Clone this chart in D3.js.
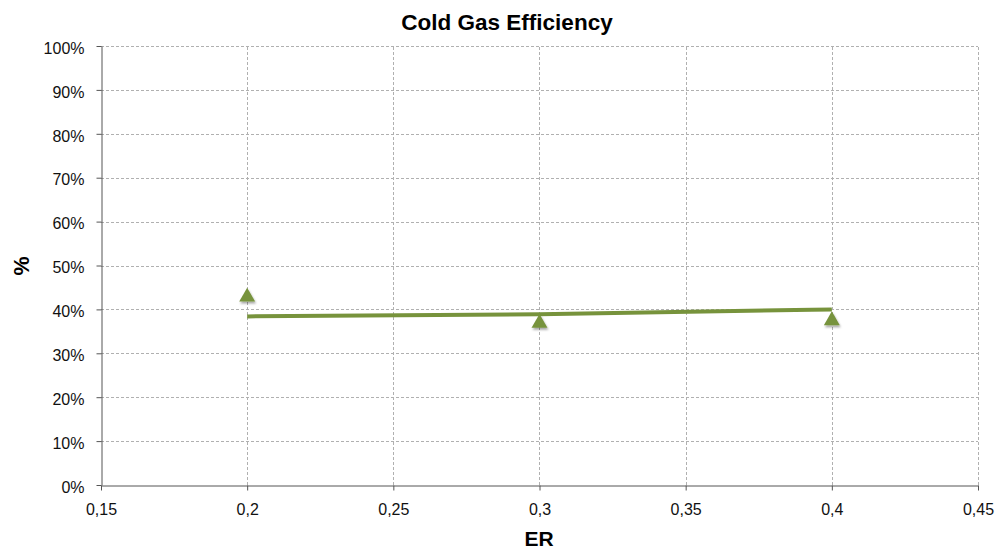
<!DOCTYPE html>
<html>
<head>
<meta charset="utf-8">
<script src="https://cdn.jsdelivr.net/npm/d3@7"></script>
<style>
  body { margin: 0; background: #fff; }
  svg { display: block; font-family: "Liberation Sans", Arial, sans-serif; }
</style>
</head>
<body>
<svg id="chart" width="1001" height="554"></svg>
<script>
// Measured efficiency per equivalence ratio
const erValues = [0.2, 0.3, 0.4];
const efficiency = [43.2, 37.2, 37.8];
// Fitted trend through the same ER values
const trendValues = [38.4, 38.9, 40.0];
const xTicks = [0.15, 0.2, 0.25, 0.3, 0.35, 0.4, 0.45];
const yTicks = [0, 10, 20, 30, 40, 50, 60, 70, 80, 90, 100];

const svg = d3.select("#chart");
const margin = { left: 101, right: 1001 - 978, top: 46, bottom: 554 - 485 };
const W = 1001, H = 554;

const x = d3.scaleLinear().domain([0.15, 0.45]).range([margin.left, W - margin.right]);
const y = d3.scaleLinear().domain([0, 100]).range([H - margin.bottom, margin.top]);

const green = "#77933c";
const fmtX = d => d3.format(".2~f")(d).replace(".", ",");

// Grid
const grid = svg.append("g").attr("stroke", "#b0b0b0").attr("stroke-width", 1).attr("stroke-dasharray", "3,2");
grid.selectAll(".gy").data(yTicks.filter(d => d > 0)).join("line")
  .attr("x1", x(0.15)).attr("x2", x(0.45))
  .attr("y1", d => Math.round(y(d)) + 0.5).attr("y2", d => Math.round(y(d)) + 0.5);
grid.selectAll(".gx").data(xTicks.filter(d => d > 0.15)).join("line")
  .attr("y1", y(0)).attr("y2", y(100))
  .attr("x1", d => Math.round(x(d)) + 0.5).attr("x2", d => Math.round(x(d)) + 0.5);

// Axes
const xAxis = d3.axisBottom(x).tickValues(xTicks).tickFormat(fmtX).tickSize(5).tickSizeOuter(0).tickPadding(13);
const yAxis = d3.axisLeft(y).tickValues(yTicks).tickFormat(d => d + "%").tickSize(5).tickSizeOuter(0).tickPadding(12);

const gx = svg.append("g").attr("transform", `translate(0,${Math.round(y(0)) + 0.5})`).call(xAxis);
const gy = svg.append("g").attr("transform", `translate(${Math.round(x(0.15)) + 0.5},0)`).call(yAxis);
[gx, gy].forEach(g => {
  g.attr("font-size", null).attr("font-family", null);
  g.select(".domain").attr("stroke", "#555");
  g.selectAll(".tick line").attr("stroke", "#555");
  g.selectAll(".tick text").attr("fill", "#111").style("font-size", "16px");
});
gy.selectAll(".tick text").attr("dy", "0.45em");

// Trend line
const line = d3.line().x((d, i) => x(erValues[i])).y(d => y(d)).curve(d3.curveMonotoneX);
svg.append("path").datum(trendValues)
  .attr("fill", "none").attr("stroke", green).attr("stroke-width", 4).attr("d", line);

// Markers with soft shadow
const defs = svg.append("defs");
const f = defs.append("filter").attr("id", "shadow").attr("x", "-50%").attr("y", "-50%").attr("width", "200%").attr("height", "200%");
f.append("feDropShadow").attr("dx", 1).attr("dy", 2).attr("stdDeviation", 1.2).attr("flood-color", "#000").attr("flood-opacity", 0.35);

const tri = d3.symbol().type(d3.symbolTriangle).size(110);
svg.append("g").selectAll("path").data(efficiency).join("path")
  .attr("d", tri)
  .attr("transform", (d, i) => `translate(${x(erValues[i])},${y(d) + 1.5})`)
  .attr("fill", green).attr("filter", "url(#shadow)");

// Titles
svg.append("text").attr("x", 507).attr("y", 30).attr("text-anchor", "middle")
  .style("font-size", "22.5px").style("font-weight", "bold").text("Cold Gas Efficiency");
svg.append("text").attr("x", 539).attr("y", 546).attr("text-anchor", "middle")
  .style("font-size", "21px").style("font-weight", "bold").text("ER");
svg.append("text").attr("transform", `translate(28.5,266) rotate(-90)`).attr("text-anchor", "middle")
  .style("font-size", "21.5px").style("font-weight", "bold").text("%");
</script>
</body>
</html>
